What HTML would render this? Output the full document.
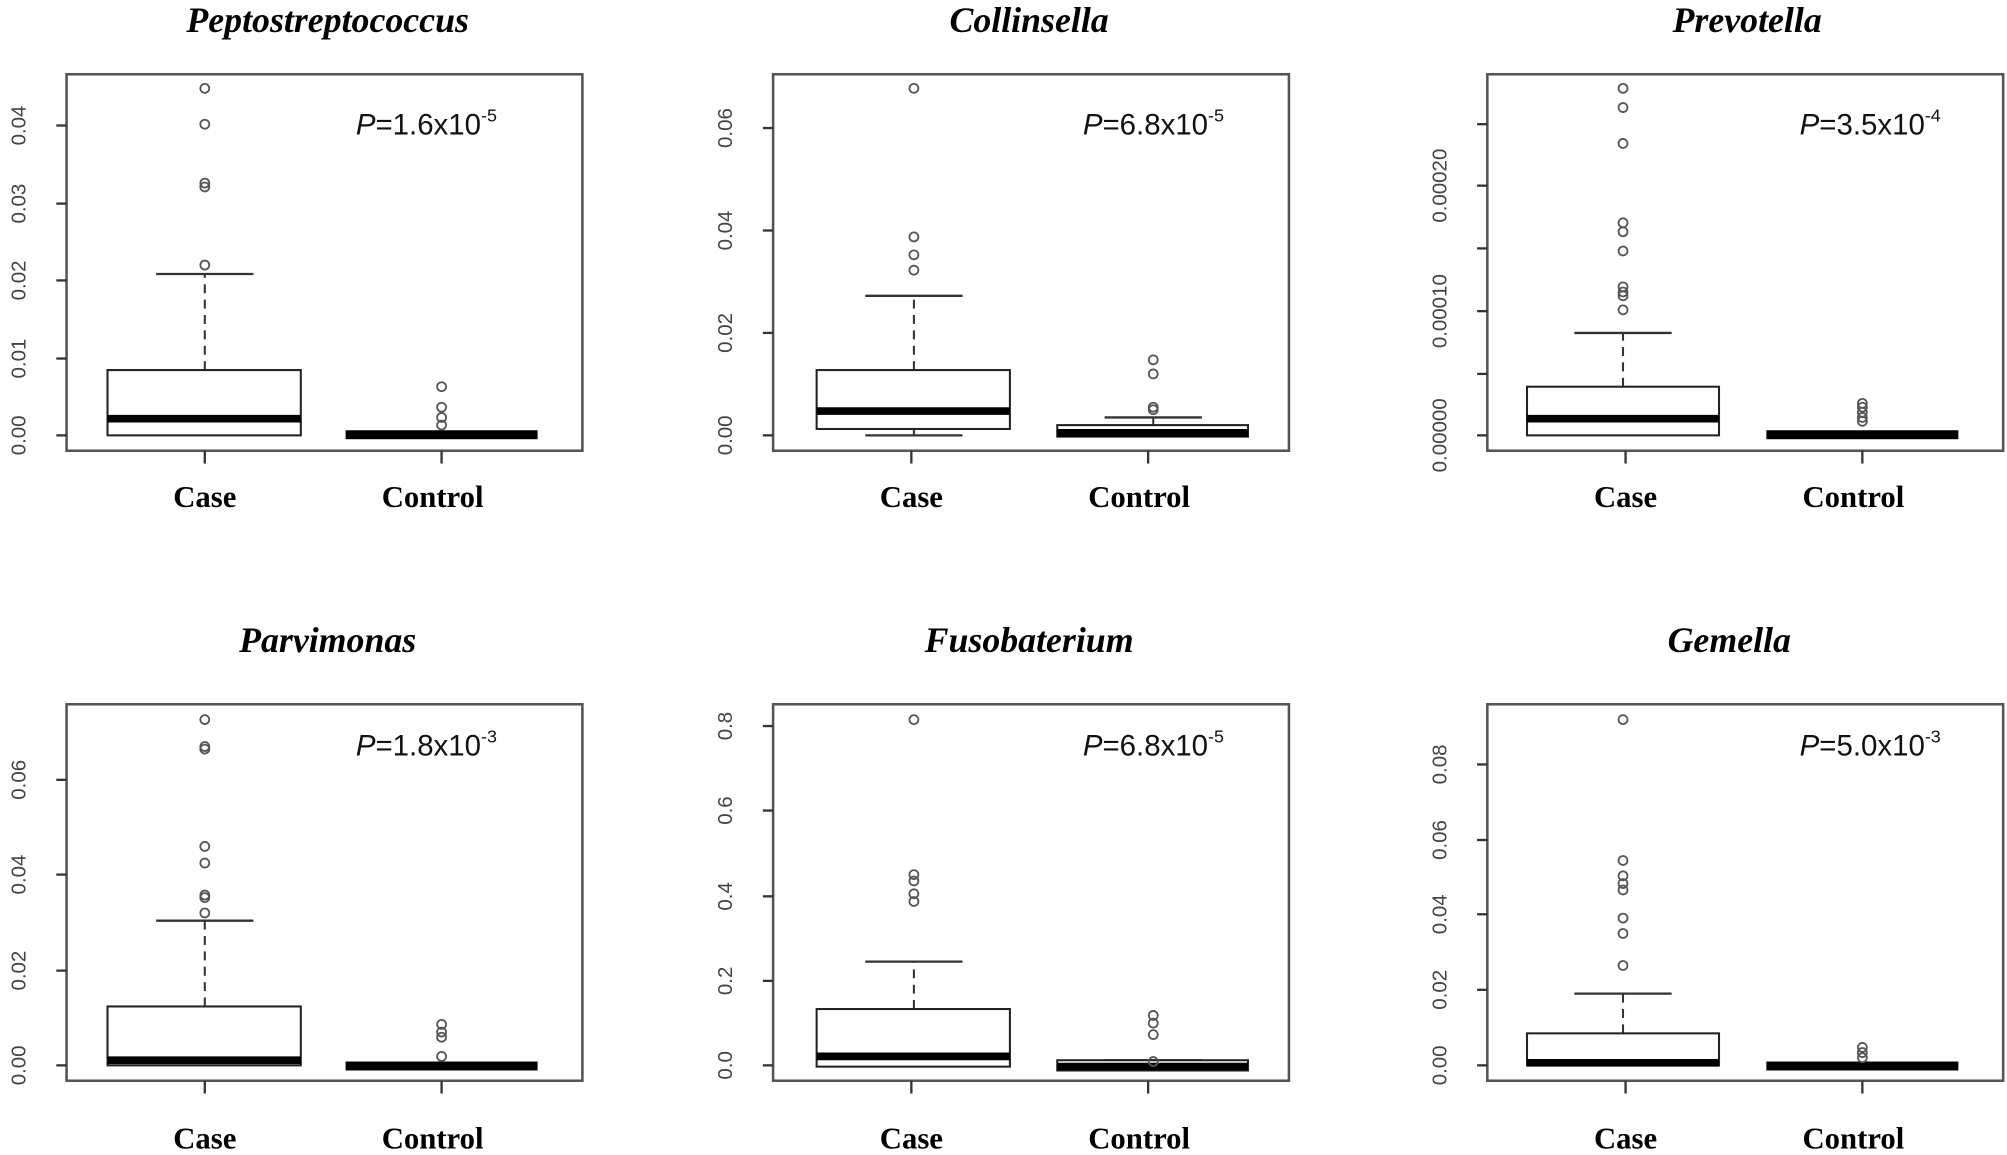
<!DOCTYPE html>
<html><head><meta charset="utf-8"><style>
html,body{margin:0;padding:0;background:#fff;}
svg{display:block}
.t{font-family:"Liberation Serif",serif;font-weight:bold;font-style:italic;font-size:28px;text-anchor:middle;fill:#000}
.c{font-family:"Liberation Serif",serif;font-weight:bold;font-size:24px;text-anchor:middle;fill:#000}
.y{font-family:"Liberation Sans",sans-serif;font-size:16px;fill:#444;text-anchor:middle}
.p{font-family:"Liberation Sans",sans-serif;font-size:23px;fill:#111}
.f{fill:none;stroke:#555;stroke-width:2}
.b{fill:#fff;stroke:#222;stroke-width:1.6}
.m{stroke:#000;stroke-width:6}
.w{stroke:#333;stroke-width:1.6;stroke-dasharray:7,5}
.k{stroke:#333;stroke-width:1.8}
.o{fill:none;stroke:#555;stroke-width:1.4}
</style></head><body>
<svg width="2007" height="1155" viewBox="0 0 1568 902" preserveAspectRatio="none" xmlns="http://www.w3.org/2000/svg">
<defs>
<g id="frame">
<rect class="f" x="52" y="58" width="403" height="294"/>
<line class="k" x1="160" y1="352" x2="160" y2="362"/>
<line class="k" x1="345" y1="352" x2="345" y2="362"/>
</g>
<g id="lt"><text class="c" x="160" y="396">Case</text><text class="c" x="338" y="396">Control</text></g>
<g id="lb"><text class="c" x="160" y="405">Case</text><text class="c" x="338" y="405">Control</text></g>
</defs>

<!-- Panel 1 -->
<g>
<text class="t" x="256" y="25">Peptostreptococcus</text>
<use href="#frame"/><use href="#lt"/>
<g class="k"><line x1="44" y1="340" x2="52" y2="340"/><line x1="44" y1="280" x2="52" y2="280"/><line x1="44" y1="219" x2="52" y2="219"/><line x1="44" y1="159" x2="52" y2="159"/><line x1="44" y1="98" x2="52" y2="98"/></g>
<text class="y" transform="translate(20,340) rotate(-90)">0.00</text>
<text class="y" transform="translate(20,280) rotate(-90)">0.01</text>
<text class="y" transform="translate(20,219) rotate(-90)">0.02</text>
<text class="y" transform="translate(20,159) rotate(-90)">0.03</text>
<text class="y" transform="translate(20,98) rotate(-90)">0.04</text>
<text class="p" x="278" y="105"><tspan font-style="italic">P</tspan>=1.6x10<tspan font-size="14" dy="-10">-5</tspan></text>
<line class="w" x1="160" y1="289" x2="160" y2="214"/><line class="k" x1="122" y1="214" x2="198" y2="214"/>
<rect class="b" x="84" y="289" width="151" height="51"/><line class="m" x1="84" y1="327" x2="235" y2="327"/>
<g class="o"><circle cx="160" cy="69" r="3.5"/><circle cx="160" cy="97" r="3.5"/><circle cx="160" cy="143" r="3.5"/><circle cx="160" cy="146" r="3.5"/><circle cx="160" cy="207" r="3.5"/></g>
<rect x="270" y="336" width="150" height="7" fill="#000"/>
<g class="o"><circle cx="345" cy="302" r="3.5"/><circle cx="345" cy="318" r="3.5"/><circle cx="345" cy="326" r="3.5"/><circle cx="345" cy="332" r="3.5"/></g>
</g>

<!-- Panel 2 -->
<g transform="translate(552,0)">
<text class="t" x="252" y="25">Collinsella</text>
<use href="#frame"/><use href="#lt"/>
<g class="k"><line x1="44" y1="340" x2="52" y2="340"/><line x1="44" y1="260" x2="52" y2="260"/><line x1="44" y1="180" x2="52" y2="180"/><line x1="44" y1="100" x2="52" y2="100"/></g>
<text class="y" transform="translate(20,340) rotate(-90)">0.00</text>
<text class="y" transform="translate(20,260) rotate(-90)">0.02</text>
<text class="y" transform="translate(20,180) rotate(-90)">0.04</text>
<text class="y" transform="translate(20,100) rotate(-90)">0.06</text>
<text class="p" x="294" y="105"><tspan font-style="italic">P</tspan>=6.8x10<tspan font-size="14" dy="-10">-5</tspan></text>
<line class="w" x1="162" y1="289" x2="162" y2="231"/><line class="k" x1="124" y1="231" x2="200" y2="231"/>
<line class="w" x1="162" y1="335" x2="162" y2="340"/><line class="k" x1="124" y1="340" x2="200" y2="340"/>
<rect class="b" x="86" y="289" width="151" height="46"/><line class="m" x1="86" y1="321" x2="237" y2="321"/>
<g class="o"><circle cx="162" cy="69" r="3.5"/><circle cx="162" cy="185" r="3.5"/><circle cx="162" cy="199" r="3.5"/><circle cx="162" cy="211" r="3.5"/></g>
<line class="w" x1="349" y1="332" x2="349" y2="326"/><line class="k" x1="311" y1="326" x2="387" y2="326"/>
<rect class="b" x="274" y="332" width="149" height="9"/><line class="m" x1="274" y1="338" x2="423" y2="338"/>
<g class="o"><circle cx="349" cy="281" r="3.5"/><circle cx="349" cy="292" r="3.5"/><circle cx="349" cy="318" r="3.5"/><circle cx="349" cy="320" r="3.5"/></g>
</g>

<!-- Panel 3 -->
<g transform="translate(1110,0)">
<text class="t" x="255" y="25">Prevotella</text>
<use href="#frame"/><use href="#lt"/>
<g class="k"><line x1="44" y1="340" x2="52" y2="340"/><line x1="44" y1="292" x2="52" y2="292"/><line x1="44" y1="243" x2="52" y2="243"/><line x1="44" y1="194" x2="52" y2="194"/><line x1="44" y1="145" x2="52" y2="145"/><line x1="44" y1="97" x2="52" y2="97"/></g>
<text class="y" transform="translate(20,340) rotate(-90)">0.00000</text>
<text class="y" transform="translate(20,243) rotate(-90)">0.00010</text>
<text class="y" transform="translate(20,145) rotate(-90)">0.00020</text>
<text class="p" x="296" y="105"><tspan font-style="italic">P</tspan>=3.5x10<tspan font-size="14" dy="-10">-4</tspan></text>
<line class="w" x1="158" y1="302" x2="158" y2="260"/><line class="k" x1="120" y1="260" x2="196" y2="260"/>
<rect class="b" x="83" y="302" width="150" height="38"/><line class="m" x1="83" y1="327" x2="233" y2="327"/>
<g class="o"><circle cx="158" cy="69" r="3.5"/><circle cx="158" cy="84" r="3.5"/><circle cx="158" cy="112" r="3.5"/><circle cx="158" cy="174" r="3.5"/><circle cx="158" cy="181" r="3.5"/><circle cx="158" cy="196" r="3.5"/><circle cx="158" cy="224" r="3.5"/><circle cx="158" cy="228" r="3.5"/><circle cx="158" cy="231" r="3.5"/><circle cx="158" cy="242" r="3.5"/></g>
<rect x="270" y="336" width="150" height="7" fill="#000"/>
<g class="o"><circle cx="345" cy="315" r="3.5"/><circle cx="345" cy="318" r="3.5"/><circle cx="345" cy="322" r="3.5"/><circle cx="345" cy="326" r="3.5"/><circle cx="345" cy="329" r="3.5"/></g>
</g>

<!-- Panel 4 -->
<g transform="translate(0,492)">
<text class="t" x="256" y="17">Parvimonas</text>
<use href="#frame"/><use href="#lb"/>
<g class="k"><line x1="44" y1="340" x2="52" y2="340"/><line x1="44" y1="266" x2="52" y2="266"/><line x1="44" y1="191" x2="52" y2="191"/><line x1="44" y1="117" x2="52" y2="117"/></g>
<text class="y" transform="translate(20,340) rotate(-90)">0.00</text>
<text class="y" transform="translate(20,266) rotate(-90)">0.02</text>
<text class="y" transform="translate(20,191) rotate(-90)">0.04</text>
<text class="y" transform="translate(20,117) rotate(-90)">0.06</text>
<text class="p" x="278" y="98"><tspan font-style="italic">P</tspan>=1.8x10<tspan font-size="14" dy="-10">-3</tspan></text>
<line class="w" x1="160" y1="294" x2="160" y2="227"/><line class="k" x1="122" y1="227" x2="198" y2="227"/>
<rect class="b" x="84" y="294" width="151" height="46"/><line class="m" x1="84" y1="336" x2="235" y2="336"/>
<g class="o"><circle cx="160" cy="70" r="3.5"/><circle cx="160" cy="91" r="3.5"/><circle cx="160" cy="93" r="3.5"/><circle cx="160" cy="169" r="3.5"/><circle cx="160" cy="182" r="3.5"/><circle cx="160" cy="207" r="3.5"/><circle cx="160" cy="209" r="3.5"/><circle cx="160" cy="221" r="3.5"/></g>
<rect x="270" y="337" width="150" height="7" fill="#000"/>
<g class="o"><circle cx="345" cy="308" r="3.5"/><circle cx="345" cy="314" r="3.5"/><circle cx="345" cy="318" r="3.5"/><circle cx="345" cy="333" r="3.5"/></g>
</g>

<!-- Panel 5 -->
<g transform="translate(552,492)">
<text class="t" x="252" y="17">Fusobaterium</text>
<use href="#frame"/><use href="#lb"/>
<g class="k"><line x1="44" y1="340" x2="52" y2="340"/><line x1="44" y1="274" x2="52" y2="274"/><line x1="44" y1="208" x2="52" y2="208"/><line x1="44" y1="141" x2="52" y2="141"/><line x1="44" y1="75" x2="52" y2="75"/></g>
<text class="y" transform="translate(20,340) rotate(-90)">0.0</text>
<text class="y" transform="translate(20,274) rotate(-90)">0.2</text>
<text class="y" transform="translate(20,208) rotate(-90)">0.4</text>
<text class="y" transform="translate(20,141) rotate(-90)">0.6</text>
<text class="y" transform="translate(20,75) rotate(-90)">0.8</text>
<text class="p" x="294" y="98"><tspan font-style="italic">P</tspan>=6.8x10<tspan font-size="14" dy="-10">-5</tspan></text>
<line class="w" x1="162" y1="296" x2="162" y2="259"/><line class="k" x1="124" y1="259" x2="200" y2="259"/>
<rect class="b" x="86" y="296" width="151" height="45"/><line class="m" x1="86" y1="333" x2="237" y2="333"/>
<g class="o"><circle cx="162" cy="70" r="3.5"/><circle cx="162" cy="191" r="3.5"/><circle cx="162" cy="196" r="3.5"/><circle cx="162" cy="206" r="3.5"/><circle cx="162" cy="212" r="3.5"/></g>
<line class="k" x1="311" y1="336" x2="387" y2="336"/>
<rect class="b" x="274" y="336" width="149" height="8"/><line class="m" x1="274" y1="341" x2="423" y2="341"/>
<g class="o"><circle cx="349" cy="301" r="3.5"/><circle cx="349" cy="307" r="3.5"/><circle cx="349" cy="316" r="3.5"/><circle cx="349" cy="337" r="3.5"/></g>
</g>

<!-- Panel 6 -->
<g transform="translate(1110,492)">
<text class="t" x="241" y="17">Gemella</text>
<use href="#frame"/><use href="#lb"/>
<g class="k"><line x1="44" y1="340" x2="52" y2="340"/><line x1="44" y1="281" x2="52" y2="281"/><line x1="44" y1="222" x2="52" y2="222"/><line x1="44" y1="164" x2="52" y2="164"/><line x1="44" y1="105" x2="52" y2="105"/></g>
<text class="y" transform="translate(20,340) rotate(-90)">0.00</text>
<text class="y" transform="translate(20,281) rotate(-90)">0.02</text>
<text class="y" transform="translate(20,222) rotate(-90)">0.04</text>
<text class="y" transform="translate(20,164) rotate(-90)">0.06</text>
<text class="y" transform="translate(20,105) rotate(-90)">0.08</text>
<text class="p" x="296" y="98"><tspan font-style="italic">P</tspan>=5.0x10<tspan font-size="14" dy="-10">-3</tspan></text>
<line class="w" x1="158" y1="315" x2="158" y2="284"/><line class="k" x1="120" y1="284" x2="196" y2="284"/>
<rect class="b" x="83" y="315" width="150" height="25"/><line class="m" x1="83" y1="338" x2="233" y2="338"/>
<g class="o"><circle cx="158" cy="70" r="3.5"/><circle cx="158" cy="180" r="3.5"/><circle cx="158" cy="192" r="3.5"/><circle cx="158" cy="198" r="3.5"/><circle cx="158" cy="203" r="3.5"/><circle cx="158" cy="225" r="3.5"/><circle cx="158" cy="237" r="3.5"/><circle cx="158" cy="262" r="3.5"/></g>
<rect x="270" y="337" width="150" height="7" fill="#000"/>
<g class="o"><circle cx="345" cy="326" r="3.5"/><circle cx="345" cy="330" r="3.5"/><circle cx="345" cy="334" r="3.5"/></g>
</g>
</svg>
</body></html>
